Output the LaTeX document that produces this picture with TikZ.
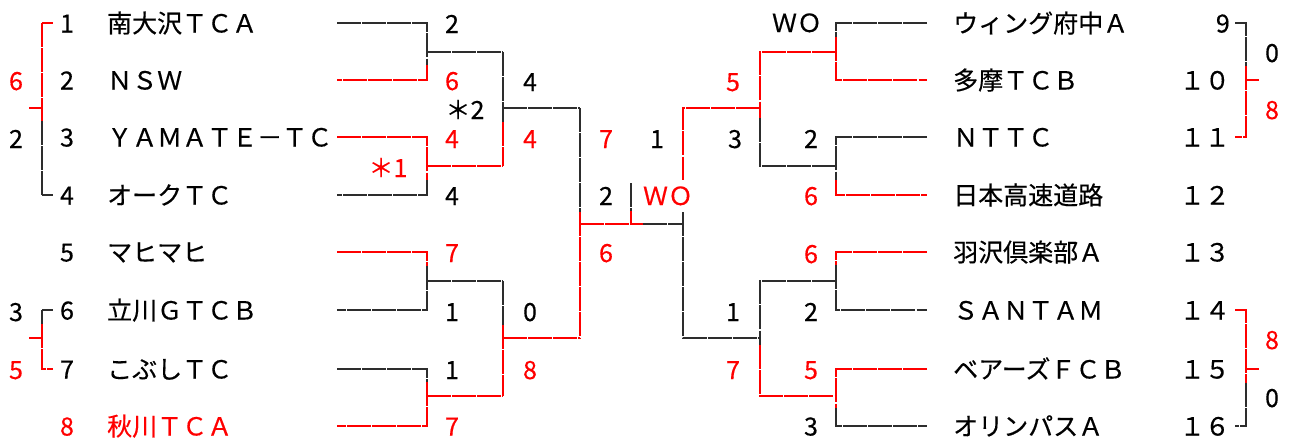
\documentclass[tikz,border=0pt]{standalone}
\usepackage{fontspec}
\setmainfont{Noto Sans CJK JP}[FakeBold=0.4]
\definecolor{rd}{RGB}{255,0,0}
\definecolor{dk}{RGB}{45,45,45}
\tikzset{
  kl/.style={draw=dk, line width=1.1pt, dash pattern=on 24pt off 1.1pt},
  rl/.style={draw=rd, line width=1.1pt, dash pattern=on 24pt off 1.1pt},
  tx/.style={inner sep=0pt, font=\fontsize{25pt}{30pt}\selectfont},
  tc/.style={tx, anchor=base},
  tw/.style={tx, anchor=base west},
  te/.style={tx, anchor=base east},
}
\begin{document}
\begin{tikzpicture}[x=1pt,y=-1pt]
\useasboundingbox (0,0) rectangle (1292,437);
% ---------------- left team names and numbers
\foreach \i/\y/\n/\c in {1/23/南大沢ＴＣＡ/black, 2/80/ＮＳＷ/black, 3/137/ＹＡＭＡＴＥ－ＴＣ/black, 4/195/オークＴＣ/black, 5/252/マヒマヒ/black, 6/310/立川ＧＴＣＢ/black, 7/369/こぶしＴＣ/black, 8/426/秋川ＴＣＡ/rd}{
  \node[tc, text=\c] (ln\i) at (67,\y+9.5) {\i};
  \node[tw, text=\c] (lt\i) at (107,\y+9.5) {\n};
}
% ---------------- right team names and numbers
\foreach \i/\y/\n/\m in {9/23/ウィング府中Ａ/9, 10/80/多摩ＴＣＢ/１０, 11/137/ＮＴＴＣ/１１, 12/195/日本高速道路/１２, 13/252/羽沢倶楽部Ａ/１３, 14/310/ＳＡＮＴＡＭ/１４, 15/369/ベアーズＦＣＢ/１５, 16/426/オリンパスＡ/１６}{
  \node[tw] (rt\i) at (953,\y+9.5) {\n};
  \node[te] (rn\i) at (1230,\y+9.5) {\m};
}
% ---------------- left side brackets (first column)
\draw[rl] (42,23) -- (53,23);
\draw[rl] (42,23) -- (42,121);
\draw[kl] (42,121) -- (42,195);
\draw[kl] (42,195) -- (53,195);
\draw[rl] (29,108) -- (42,108);
\draw[kl] (42,310) -- (53,310);
\draw[kl] (42,310) -- (42,324);
\draw[rl] (42,324) -- (42,369) -- (53,369);
\draw[rl] (29,338) -- (42,338);
\node[tc, text=rd] (a1) at (16,90) {6};
\node[tc] (a2) at (16,148) {2};
\node[tc] (a3) at (16,321) {3};
\node[tc, text=rd] (a4) at (16,379) {5};
% ---------------- right side brackets (last column)
\draw[kl] (1235,23) -- (1246,23) -- (1246,66);
\draw[rl] (1246,66) -- (1246,137) -- (1235,137);
\draw[rl] (1246,80) -- (1259,80);
\draw[rl] (1235,310) -- (1246,310) -- (1246,383);
\draw[kl] (1246,383) -- (1246,426) -- (1235,426);
\draw[rl] (1246,369) -- (1259,369);
\node[tc] (b1) at (1272,62) {0};
\node[tc, text=rd] (b2) at (1272,119) {8};
\node[tc, text=rd] (b3) at (1272,349) {8};
\node[tc] (b4) at (1272,407) {0};
% ---------------- left round 1 lines
\draw[kl] (337,23) -- (427,23) -- (427,65);
\draw[rl] (427,65) -- (427,80) -- (337,80);
\draw[kl] (427,52) -- (503,52);
\draw[rl] (337,137) -- (427,137) -- (427,180);
\draw[kl] (427,180) -- (427,195) -- (337,195);
\draw[rl] (427,166) -- (503,166);
\draw[rl] (337,252) -- (427,252) -- (427,266);
\draw[kl] (427,266) -- (427,310) -- (337,310);
\draw[kl] (427,281) -- (503,281);
\draw[kl] (337,369) -- (427,369) -- (427,382);
\draw[rl] (427,382) -- (427,426) -- (337,426);
\draw[rl] (427,396) -- (503,396);
% left round 2
\draw[kl] (503,52) -- (503,122);
\draw[rl] (503,122) -- (503,166);
\draw[kl] (503,108) -- (580,108);
\draw[kl] (503,281) -- (503,325);
\draw[rl] (503,325) -- (503,396);
\draw[rl] (503,338) -- (580,338);
% left semifinal
\draw[kl] (580,108) -- (580,212);
\draw[rl] (580,212) -- (580,338);
% final
\draw[rl] (580,224) -- (643,224);
\draw[kl] (643,224) -- (683,224);
\draw[kl] (631,183) -- (631,211);
\draw[rl] (631,211) -- (631,224);
\draw[rl] (760,108) -- (683,108) -- (683,180);
\draw[kl] (683,212) -- (683,338) -- (760,338);
% right semifinal / round 2
\draw[rl] (836,52) -- (760,52) -- (760,118);
\draw[kl] (760,118) -- (760,166) -- (836,166);
\draw[kl] (836,281) -- (760,281) -- (760,345);
\draw[rl] (760,345) -- (760,396) -- (836,396);
% right round 1
\draw[kl] (927,23) -- (836,23) -- (836,37);
\draw[rl] (836,37) -- (836,80) -- (927,80);
\draw[kl] (927,137) -- (836,137) -- (836,180);
\draw[rl] (836,180) -- (836,195) -- (927,195);
\draw[rl] (927,252) -- (836,252) -- (836,265);
\draw[kl] (836,265) -- (836,310) -- (927,310);
\draw[rl] (927,369) -- (836,369) -- (836,408);
\draw[kl] (836,408) -- (836,426) -- (927,426);
% ---------------- score labels, left
\node[tc] (s1) at (452,33) {2};
\node[tc, text=rd] (s2) at (452,90) {6};
\node[tc] (s3) at (530,91) {4};
\node[tc] (s4) at (465,119) {＊2};
\node[tc, text=rd] (s5) at (452,148) {4};
\node[tc, text=rd] (s6) at (530,148) {4};
\node[tc, text=rd] (s7) at (606,148) {7};
\node[tc, text=rd] (s8) at (388,177) {＊1};
\node[tc] (s9) at (452,205) {4};
\node[tc] (s10) at (606,205) {2};
\node[tc, text=rd] (s11) at (452,262) {7};
\node[tc, text=rd] (s12) at (606,262) {6};
\node[tc] (s13) at (452,321) {1};
\node[tc] (s14) at (530,321) {0};
\node[tc] (s15) at (452,379) {1};
\node[tc, text=rd] (s16) at (530,379) {8};
\node[tc, text=rd] (s17) at (452,435.5) {7};
% centre
\node[tc] (c1) at (657,148) {1};
\node[tc, text=rd] (c2) at (668,205) {ＷＯ};
% right
\node[tc] (r1) at (797,32) {ＷＯ};
\node[tc, text=rd] (r2) at (733,91) {5};
\node[tc] (r3) at (735,148) {3};
\node[tc] (r4) at (811,148) {2};
\node[tc, text=rd] (r5) at (811,205) {6};
\node[tc, text=rd] (r6) at (811,263) {6};
\node[tc] (r7) at (733,321) {1};
\node[tc] (r8) at (811,321) {2};
\node[tc, text=rd] (r9) at (733,379) {7};
\node[tc, text=rd] (r10) at (811,379) {5};
\node[tc] (r11) at (811,435.5) {3};
\end{tikzpicture}
\end{document}
